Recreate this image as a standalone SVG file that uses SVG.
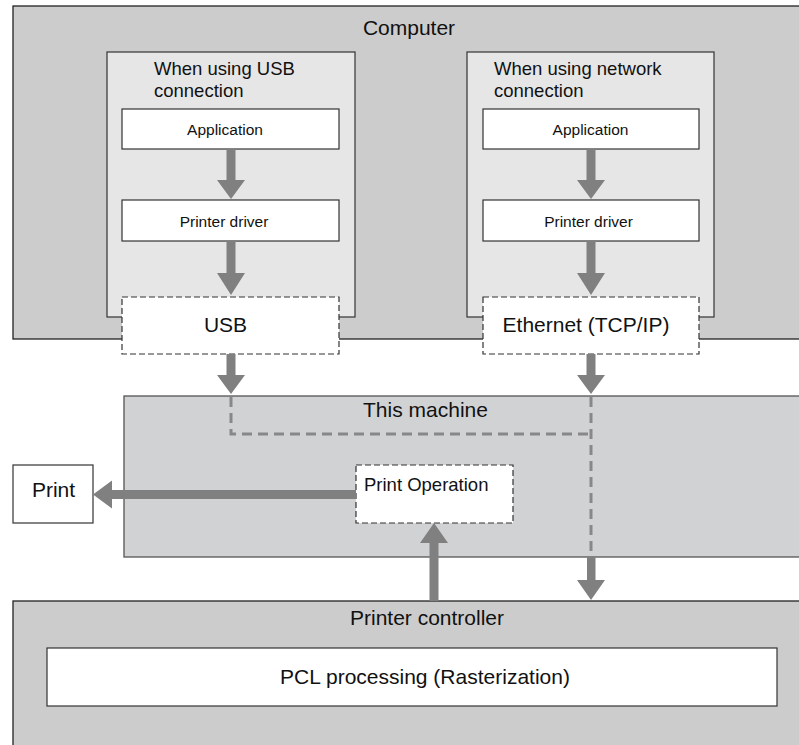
<svg xmlns="http://www.w3.org/2000/svg" width="799" height="745" viewBox="0 0 799 745">
<style>
text{font-family:"Liberation Sans",Arial,sans-serif;fill:#111}
.big{font-size:21px}
.mid{font-size:18.5px}
.sm{font-size:15.5px}
.outer{fill:#cccccc;stroke:#222;stroke-width:1.3}
.machine{fill:#d1d2d4;stroke:#555;stroke-width:1.3}
.inner{fill:#e6e6e6;stroke:#333;stroke-width:1.2}
.box{fill:#fff;stroke:#333;stroke-width:1.2}
.dbox{fill:#fff;stroke:#333;stroke-width:1.2;stroke-dasharray:6 3}
.arr{fill:#808080}
.dash{fill:none;stroke:#888;stroke-width:3;stroke-dasharray:10 6}
</style>
<g id="computer">
<rect class="outer" x="13" y="6" width="800" height="333"/>
<text class="big" x="409" y="35" text-anchor="middle">Computer</text>
</g>
<g id="usb-group">
<rect class="inner" x="107" y="52" width="248" height="265"/>
<text class="mid" x="154" y="75">When using USB</text>
<text class="mid" x="154" y="97">connection</text>
</g>
<g id="net-group">
<rect class="inner" x="467" y="52" width="247" height="265"/>
<text class="mid" x="494" y="75">When using network</text>
<text class="mid" x="494" y="97">connection</text>
</g>
<g id="usb-app">
<rect class="box" x="122" y="109" width="217" height="40"/>
<text class="sm" x="225" y="135" text-anchor="middle">Application</text>
</g>
<g id="usb-driver">
<rect class="box" x="122" y="200" width="217" height="41"/>
<text class="sm" x="224" y="227" text-anchor="middle">Printer driver</text>
</g>
<g id="usb">
<rect class="dbox" x="122" y="297" width="217" height="57"/>
<text class="big" x="225.5" y="332" text-anchor="middle">USB</text>
</g>
<g id="net-app">
<rect class="box" x="483" y="109" width="216" height="40"/>
<text class="sm" x="590.5" y="135" text-anchor="middle">Application</text>
</g>
<g id="net-driver">
<rect class="box" x="483" y="200" width="216" height="41"/>
<text class="sm" x="588.5" y="227" text-anchor="middle">Printer driver</text>
</g>
<g id="ethernet">
<rect class="dbox" x="483" y="297" width="216" height="57"/>
<text class="big" x="586" y="332" text-anchor="middle">Ethernet (TCP/IP)</text>
</g>
<g id="this-machine">
<rect class="machine" x="124" y="396" width="700" height="161"/>
<text class="big" x="425.5" y="417" text-anchor="middle">This machine</text>
</g>
<g id="print-operation">
<rect class="dbox" x="356" y="465" width="157" height="58"/>
<text x="364" y="491" style="font-size:18.5px">Print Operation</text>
</g>
<g id="print">
<rect class="box" x="13" y="465" width="80" height="58"/>
<text class="big" x="53.5" y="497" text-anchor="middle">Print</text>
</g>
<g id="printer-controller">
<rect class="outer" x="13" y="601" width="800" height="160"/>
<text class="big" x="427" y="625" text-anchor="middle">Printer controller</text>
</g>
<g id="pcl">
<rect class="box" x="47" y="648" width="730" height="58"/>
<text class="big" x="425" y="684" text-anchor="middle">PCL processing (Rasterization)</text>
</g>
<g id="connectors">
<path class="dash" d="M231 397 V434 H591 M591 397 V557"/>
<path class="arr" d="M226.5 149 h9 v31 h9.5 l-14 19 l-14 -19 h9.5 z"/>
<path class="arr" d="M226.5 241 h9 v32 h9.5 l-14 22 l-14 -22 h9.5 z"/>
<path class="arr" d="M226.5 354 h9 v21 h9.5 l-14 19 l-14 -19 h9.5 z"/>
<path class="arr" d="M586.5 149 h9 v31 h9.5 l-14 19 l-14 -19 h9.5 z"/>
<path class="arr" d="M586.5 241 h9 v32 h9.5 l-14 22 l-14 -22 h9.5 z"/>
<path class="arr" d="M586.5 354 h9 v21 h9.5 l-14 19 l-14 -19 h9.5 z"/>
<path class="arr" d="M587 557 h8.5 v23 h9.5 l-14 20 l-14 -20 h10 z"/>
<path class="arr" d="M429.5 601 v-58 h-9.5 l14 -20 l14 20 h-9.5 v58 z"/>
<path class="arr" d="M356 490 v9 h-244 v9.5 l-19 -14 l19 -14 v9.5 z"/>
</g>
</svg>
